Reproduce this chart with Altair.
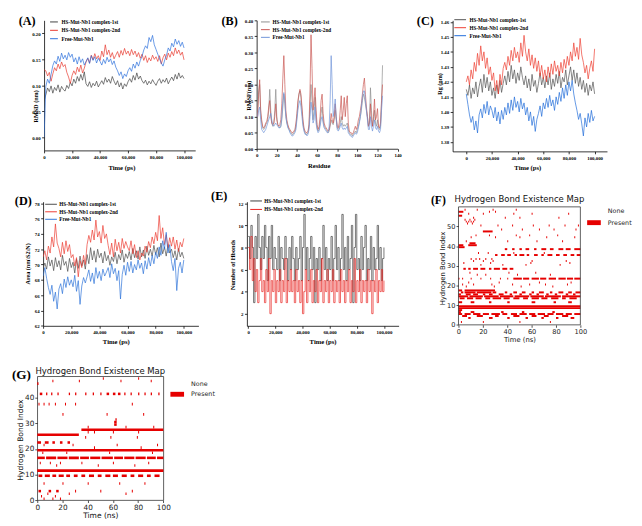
import altair as alt
import pandas as pd

SERIF = "Liberation Serif"
SANS = "DejaVu Sans"
S1 = "HS-Mut-Nb1 complex-1st"
S2 = "HS-Mut-Nb1 complex-2nd"
S3 = "Free-Mut-Nb1"

A_TIME = list(range(0, 100001, 1250))
A_1ST = [0.070, 0.082, 0.095, 0.088, 0.099, 0.085, 0.096, 0.090, 0.101, 0.087, 0.098, 0.092, 0.089,
         0.100, 0.094, 0.106, 0.099, 0.112, 0.104, 0.117, 0.108, 0.121, 0.110, 0.126,
         0.103, 0.098, 0.107, 0.096, 0.104, 0.099, 0.108, 0.097, 0.103,
         0.109, 0.102, 0.115, 0.106, 0.112, 0.104, 0.117, 0.108, 0.101, 0.109, 0.097, 0.105, 0.093, 0.103, 0.098, 0.107,
         0.113, 0.106, 0.119, 0.110, 0.124, 0.112, 0.118, 0.109, 0.104, 0.110, 0.101, 0.108, 0.103, 0.111, 0.105, 0.100,
         0.108, 0.113, 0.104, 0.111, 0.106, 0.114, 0.103, 0.110, 0.116, 0.109, 0.121, 0.112, 0.124, 0.114, 0.119, 0.113]
A_2ND = [0.130, 0.128, 0.118, 0.125, 0.108, 0.122, 0.134, 0.128, 0.141, 0.132, 0.145, 0.136, 0.140,
         0.125, 0.116, 0.104, 0.119, 0.128, 0.121, 0.135, 0.126, 0.139, 0.124, 0.133,
         0.145, 0.152, 0.143, 0.158, 0.149, 0.161, 0.151, 0.157, 0.148,
         0.166, 0.155, 0.178, 0.159, 0.168, 0.154, 0.163, 0.151, 0.158, 0.165, 0.154, 0.167, 0.158, 0.171, 0.160, 0.166,
         0.157, 0.169, 0.159, 0.166, 0.155, 0.163, 0.152, 0.160, 0.148, 0.157, 0.144, 0.153, 0.147, 0.158, 0.150, 0.155,
         0.146, 0.157, 0.141, 0.153, 0.160, 0.149, 0.162, 0.154, 0.165, 0.157, 0.172, 0.161, 0.168, 0.158, 0.164, 0.149]
A_FREE = [0.000, 0.098, 0.112, 0.104, 0.121, 0.138, 0.147, 0.141, 0.156, 0.146, 0.162, 0.151, 0.158,
          0.149, 0.163, 0.154, 0.160, 0.145, 0.153, 0.141, 0.155, 0.144, 0.151, 0.139,
          0.146, 0.153, 0.142, 0.157, 0.148, 0.155, 0.143, 0.152, 0.146,
          0.139, 0.150, 0.142, 0.154, 0.145, 0.151, 0.140, 0.147, 0.135, 0.128, 0.119, 0.126, 0.113, 0.122, 0.117, 0.128,
          0.134, 0.127, 0.141, 0.133, 0.145, 0.137, 0.148, 0.156, 0.168, 0.176, 0.171, 0.192, 0.184, 0.196, 0.178, 0.169,
          0.160, 0.151, 0.143, 0.137, 0.149, 0.158, 0.172, 0.166, 0.181, 0.174, 0.189, 0.179, 0.186, 0.175, 0.183, 0.172]

B_RES = list(range(1, 126))
B_1ST = [.13, .18, .20, .11, .08, .065, .06, .065, .075, .08, .09, .12, .185, .12, .08, .07, .075, .12, .185, .10,
         .075, .07, .065, .07, .09, .13, .17, .14, .10, .08, .07, .06, .055, .05, .045, .045, .05, .055, .07, .10,
         .14, .17, .18, .16, .12, .08, .06, .05, .045, .045, .05, .07, .13, .20, .15, .09, .12, .16, .10, .065,
         .055, .06, .08, .11, .13, .09, .07, .065, .06, .055, .05, .055, .07, .09, .08, .075, .09, .12, .09, .065,
         .06, .065, .08, .10, .08, .07, .075, .07, .075, .08, .06, .05, .045, .045, .04, .045, .05, .055, .05, .06,
         .07, .085, .10, .12, .15, .17, .16, .14, .12, .10, .07, .08, .19, .12, .07, .09, .12, .08, .07, .09,
         .065, .06, .07, .14, .26]
B_2ND = [.10, .17, .215, .12, .09, .07, .065, .07, .08, .085, .10, .13, .15, .10, .08, .075, .08, .10, .14, .09,
         .075, .07, .075, .09, .14, .22, .29, .20, .12, .09, .075, .065, .06, .055, .05, .05, .055, .06, .08, .11,
         .15, .17, .185, .17, .13, .09, .065, .055, .05, .05, .055, .075, .18, .355, .25, .12, .15, .19, .12, .075,
         .06, .07, .10, .15, .17, .11, .08, .07, .065, .06, .055, .06, .08, .11, .09, .08, .10, .14, .10, .07,
         .065, .08, .12, .165, .09, .12, .16, .10, .14, .165, .08, .055, .05, .05, .045, .05, .06, .07, .06, .07,
         .09, .10, .12, .14, .17, .20, .22, .17, .13, .10, .07, .08, .14, .09, .07, .10, .155, .09, .10, .125,
         .07, .065, .08, .15, .20]
B_FREE = [.10, .12, .13, .09, .06, .055, .05, .055, .06, .07, .08, .09, .10, .11, .09, .075, .07, .075, .08, .075,
          .07, .065, .065, .07, .10, .15, .175, .15, .10, .08, .065, .06, .05, .045, .04, .04, .045, .05, .06, .09,
          .12, .14, .15, .13, .10, .07, .055, .045, .045, .04, .045, .06, .10, .145, .12, .08, .09, .13, .08, .06,
          .05, .055, .07, .09, .10, .08, .065, .06, .055, .05, .05, .07, .15, .29, .20, .10, .12, .155, .10, .06,
          .055, .06, .07, .08, .065, .06, .065, .06, .065, .07, .05, .045, .04, .04, .035, .04, .045, .05, .045, .05,
          .065, .08, .10, .13, .16, .18, .18, .15, .12, .09, .06, .06, .10, .07, .055, .07, .09, .065, .06, .07,
          .055, .05, .06, .12, .165]

C_TIME = list(range(0, 100001, 1250))
C_1ST = [1.415, 1.411, 1.418, 1.409, 1.416, 1.412, 1.420, 1.410, 1.417,
         1.422, 1.413, 1.425, 1.416, 1.423, 1.414, 1.420, 1.411, 1.416, 1.409, 1.418, 1.412, 1.421, 1.413, 1.419, 1.424,
         1.418, 1.427, 1.420, 1.431, 1.422, 1.428, 1.419, 1.426, 1.421, 1.430, 1.423, 1.418,
         1.424, 1.416, 1.422, 1.414, 1.425, 1.417, 1.421, 1.413, 1.419, 1.426, 1.418, 1.423,
         1.416, 1.424, 1.418, 1.426, 1.415, 1.422, 1.417, 1.425, 1.419, 1.427, 1.416, 1.423, 1.420, 1.428, 1.418, 1.424,
         1.430, 1.421, 1.428, 1.419, 1.426, 1.417, 1.423, 1.415, 1.421, 1.413, 1.419, 1.411, 1.418, 1.414, 1.420, 1.412]
C_2ND = [1.420, 1.424, 1.418, 1.428, 1.422, 1.433, 1.427, 1.439, 1.431,
         1.444, 1.434, 1.440, 1.429, 1.436, 1.425, 1.430, 1.421, 1.426, 1.414, 1.421, 1.412, 1.425, 1.418, 1.429, 1.433,
         1.428, 1.437, 1.431, 1.441, 1.434, 1.443, 1.436, 1.440, 1.433, 1.446, 1.437, 1.451,
         1.440, 1.434, 1.442, 1.431, 1.438, 1.429, 1.436, 1.427, 1.434, 1.424, 1.431, 1.422,
         1.428, 1.420, 1.430, 1.423, 1.432, 1.425, 1.434, 1.427, 1.431, 1.424, 1.433, 1.426, 1.435, 1.429, 1.437, 1.431,
         1.440, 1.434, 1.446, 1.437, 1.443, 1.435, 1.449, 1.438, 1.433, 1.426, 1.431, 1.422, 1.429, 1.434, 1.427, 1.442]
C_FREE = [1.412, 1.405, 1.398, 1.393, 1.397, 1.388, 1.394, 1.386, 1.398,
          1.402, 1.396, 1.405, 1.399, 1.407, 1.398, 1.404, 1.401, 1.396, 1.403, 1.394, 1.400, 1.392, 1.401, 1.395, 1.403,
          1.398, 1.406, 1.399, 1.408, 1.401, 1.410, 1.403, 1.407, 1.400, 1.409, 1.402, 1.406,
          1.398, 1.403, 1.394, 1.400, 1.391, 1.397, 1.387, 1.395, 1.399, 1.404, 1.397, 1.406,
          1.402, 1.409, 1.403, 1.411, 1.404, 1.408, 1.401, 1.410, 1.405, 1.413, 1.407, 1.416, 1.409, 1.418, 1.411, 1.420,
          1.414, 1.421, 1.412, 1.406, 1.401, 1.395, 1.399, 1.392, 1.384, 1.396, 1.390, 1.399, 1.393, 1.401, 1.394, 1.397]

D_TIME = list(range(0, 100001, 1250))
D_1ST = [69.5, 70.2, 69.4, 71.0, 69.8, 70.6, 69.2, 70.9, 69.7,
         70.5, 69.3, 71.2, 69.9, 70.4, 69.1, 70.8, 69.6, 70.3, 68.9, 70.7, 69.5, 71.1, 69.8, 70.6, 69.4,
         71.3, 70.1, 72.2, 70.6, 71.8, 70.3, 72.0, 70.9, 71.5, 70.2, 71.7, 70.5,
         71.2, 69.9, 71.0, 70.4, 71.6, 70.1, 71.3, 70.6, 71.9, 70.3, 71.4, 70.8,
         71.7, 70.6, 72.1, 70.9, 71.8, 70.7, 72.3, 71.0, 71.9, 70.8, 72.4, 71.2, 72.0, 71.1, 72.5, 71.3,
         72.2, 71.0, 72.8, 71.4, 72.3, 71.1, 72.6, 71.5, 72.0, 70.9, 71.8, 70.6, 72.1, 71.0, 71.6, 70.8]
D_2ND = [71.0, 71.8, 70.6, 72.4, 71.5, 73.6, 72.3, 75.3, 72.8,
         72.1, 71.0, 72.9, 71.4, 73.1, 71.7, 72.6, 70.9, 71.3, 69.8, 70.9, 68.4, 70.5, 69.6, 71.2, 70.0,
         72.6, 73.8, 72.9, 74.5, 73.2, 75.8, 73.6, 74.3, 72.8, 75.1, 73.4, 74.0,
         72.5, 71.3, 72.8, 71.0, 73.3, 71.8, 72.9, 71.5, 73.4, 72.1, 73.0, 72.3,
         71.8, 73.1, 71.4, 72.6, 70.9, 71.8, 70.6, 71.5, 71.1, 72.4, 71.6, 73.0, 72.2, 73.6, 72.7, 74.2,
         73.1, 76.4, 73.4, 74.8, 72.6, 73.9, 72.2, 73.5, 72.4, 73.6, 72.0, 73.2, 71.7, 72.9, 72.3, 73.4]
D_FREE = [68.5, 69.6, 68.2, 67.0, 66.1, 67.3, 65.2, 66.4, 64.2,
          66.8, 67.5, 66.2, 68.1, 67.0, 68.4, 67.3, 68.0, 67.1, 68.6, 66.5, 67.9, 64.8, 67.2, 68.3, 67.6,
          68.4, 69.3, 67.8, 68.9, 67.5, 69.6, 68.2, 69.1, 67.9, 69.4, 68.5, 69.0,
          69.6, 68.3, 70.1, 68.8, 69.5, 67.9, 69.2, 65.5, 68.7, 69.9, 68.6, 70.3,
          69.1, 70.4, 68.9, 70.0, 69.3, 70.6, 69.5, 70.2, 68.8, 70.5, 69.4, 70.9, 69.8, 71.2, 70.1, 71.6,
          70.8, 72.3, 71.2, 73.1, 72.0, 74.2, 71.5, 72.6, 70.4, 69.2, 70.8, 66.6, 69.5, 70.3, 68.9, 70.6]

E_TIME = list(range(0, 100001, 1000))
E_1ST = [9, 7, 10, 8, 3, 9, 7, 11, 8, 6, 9, 7, 10, 8, 5, 9, 7, 10, 6, 8, 7,
         6, 9, 5, 8, 7, 6, 9, 7, 5, 8, 6, 9, 7, 5, 8, 6, 7, 9, 5, 8,
         11, 6, 8, 5, 7, 9, 6, 8, 3, 7, 6, 8, 5, 7, 10, 6, 8, 5, 7, 6,
         9, 5, 7, 10, 6, 8, 5, 7, 11, 6, 8, 5, 9, 6, 7, 10, 3, 8, 11, 6,
         7, 5, 9, 6, 8, 10, 5, 7, 6, 9, 5, 8, 6, 7, 10, 6, 8, 5, 7, 8]
E_2ND = [8, 6, 9, 5, 7, 4, 6, 3, 5, 7, 4, 5, 3, 6, 4, 7, 2, 5, 4, 6, 3,
         5, 4, 6, 3, 5, 4, 7, 3, 5, 4, 6, 4, 5, 3, 6, 4, 5, 3, 5, 2,
         4, 6, 3, 5, 4, 6, 3, 5, 4, 6, 3, 5, 4, 7, 3, 5, 4, 6, 3, 5,
         4, 6, 3, 5, 4, 5, 3, 6, 4, 5, 3, 5, 4, 6, 3, 5, 4, 7, 3, 5,
         4, 6, 3, 5, 4, 5, 3, 6, 4, 5, 2, 5, 4, 6, 3, 5, 4, 6, 4, 5]

# (bond index, start ns, end ns)
F_SEGS = [(8, 0, 100), (9, 0, 100), (17, 0, 3), (17, 5, 30),
          (16, 2, 4), (16, 5, 14), (16, 15, 27), (16, 28, 31), (16, 38, 40), (16, 45, 48), (16, 52, 55),
          (16, 60, 62), (16, 66, 70), (16, 75, 77), (16, 82, 86), (16, 90, 93), (16, 96, 100),
          (15, 0, 2), (15, 6, 10), (15, 12, 16), (15, 20, 22), (15, 25, 28), (15, 33, 37), (15, 42, 44),
          (15, 50, 52), (15, 58, 60), (15, 64, 66), (15, 72, 74), (15, 79, 81), (15, 88, 90), (15, 94, 96),
          (14, 0, 8), (14, 9, 20), (14, 21, 33), (14, 34, 45), (14, 46, 58), (14, 59, 70), (14, 71, 84), (14, 85, 100),
          (13, 1, 5), (13, 7, 12), (13, 14, 19), (13, 22, 26), (13, 28, 35), (13, 37, 42), (13, 45, 50),
          (13, 53, 57), (13, 60, 66), (13, 68, 73), (13, 76, 82), (13, 85, 88), (13, 91, 97),
          (11, 0, 3), (11, 10, 13), (11, 25, 27), (11, 40, 42), (11, 60, 63), (11, 78, 80), (11, 90, 93),
          (7, 0, 3), (6, 0, 2), (6, 10, 13), (6, 35, 37), (6, 52, 54), (6, 77, 79),
          (5, 0, 3), (5, 5, 10), (5, 12, 18), (5, 20, 25), (5, 27, 34), (5, 36, 40), (5, 43, 48), (5, 50, 56),
          (5, 58, 63), (5, 65, 71), (5, 73, 78), (5, 80, 86), (5, 88, 93), (5, 95, 100),
          (4, 3, 7), (4, 15, 20), (4, 30, 33), (4, 45, 50), (4, 60, 64), (4, 70, 74), (4, 85, 90),
          (3, 8, 10), (3, 25, 28), (3, 40, 42), (3, 55, 57), (3, 68, 70), (3, 80, 82), (3, 92, 95),
          (23, 45, 52), (23, 53, 58), (23, 60, 66), (23, 67, 72), (23, 74, 80), (23, 82, 88), (23, 89, 94), (23, 95, 100),
          (28, 4, 6), (28, 8, 10), (28, 12, 16), (28, 18, 22), (28, 25, 27), (28, 29, 34), (28, 36, 40), (28, 42, 45),
          (35, 30, 32), (35, 35, 38), (35, 40, 43), (35, 46, 48), (35, 50, 54), (35, 56, 58), (35, 62, 65),
          (35, 68, 70), (35, 73, 77), (35, 80, 83), (35, 86, 89), (35, 92, 95), (35, 97, 100),
          (38, 38, 40), (38, 44, 46), (38, 50, 52), (38, 55, 58), (38, 62, 64), (38, 68, 72), (38, 75, 78),
          (38, 82, 86), (38, 88, 92), (38, 95, 100),
          (39, 0, 5), (40, 0, 4), (40, 8, 15), (41, 9, 14), (47, 20, 28), (55, 0, 3), (57, 0, 4)]
F_DOTS = [(1, 2), (1, 20), (1, 50), (1, 75), (19, 6), (19, 29), (19, 51), (19, 77),
          (20, 3), (20, 12), (20, 27), (20, 44), (20, 58), (20, 71), (20, 89), (21, 8), (21, 33), (21, 66), (21, 92),
          (23, 0), (23, 3), (23, 10), (23, 18), (23, 26), (23, 34), (23, 40), (25, 15), (25, 22), (25, 48), (25, 75),
          (26, 9), (26, 41), (26, 63), (30, 18), (30, 36), (30, 55), (30, 83), (31, 4), (31, 26), (31, 59), (31, 91),
          (32, 12), (32, 20), (32, 28), (32, 60), (32, 88), (33, 10), (33, 14), (33, 17), (33, 22), (33, 27),
          (36, 16), (36, 24), (36, 45), (36, 70), (42, 6), (42, 40), (42, 64), (42, 85),
          (44, 10), (44, 30), (44, 50), (44, 72), (44, 95), (45, 14), (45, 25), (45, 47), (45, 58), (45, 81),
          (48, 35), (48, 52), (48, 66), (48, 78), (48, 96), (50, 18), (50, 32), (50, 44), (50, 61), (50, 74), (50, 87), (50, 98),
          (51, 7), (51, 11), (52, 6), (52, 8), (52, 10), (52, 12), (53, 5), (53, 9), (53, 13),
          (54, 12), (54, 38), (54, 50), (54, 82), (56, 8), (56, 20), (56, 45), (56, 60), (56, 90),
          (57, 25), (57, 30), (58, 5), (58, 15), (58, 28), (58, 47)]

G_SEGS = [(11, 0, 100), (19, 0, 100),
          (16, 0, 6), (16, 7, 15), (16, 16, 24), (16, 25, 33), (16, 34, 41), (16, 42, 50), (16, 51, 60),
          (16, 61, 68), (16, 69, 77), (16, 78, 86), (16, 87, 94), (16, 95, 100),
          (25, 0, 33), (27, 35, 100), (29, 61, 63), (30, 61, 63), (31, 62, 63),
          (9, 1, 4), (9, 6, 10), (9, 12, 15), (9, 17, 21), (9, 23, 26), (9, 29, 32), (9, 35, 38), (9, 41, 45),
          (9, 48, 51), (9, 54, 58), (9, 60, 64), (9, 67, 71), (9, 74, 77), (9, 80, 84), (9, 87, 90), (9, 93, 97),
          (22, 0, 3), (22, 6, 9), (22, 12, 14), (22, 18, 20), (22, 24, 26),
          (41, 2, 4), (41, 7, 8), (41, 11, 12), (41, 16, 17), (41, 25, 26), (41, 30, 31), (41, 38, 39),
          (41, 44, 45), (41, 50, 51), (41, 55, 57), (41, 60, 62), (41, 64, 66), (41, 69, 70), (41, 74, 75),
          (41, 80, 81), (41, 85, 86), (41, 90, 91), (41, 96, 97), (45, 0, 1), (3, 1, 3), (3, 9, 11), (3, 15, 17)]
G_DOTS = [(37, 1), (37, 5), (37, 9), (37, 14), (37, 22), (37, 30), (37, 75),
          (46, 12), (46, 33), (47, 52), (46, 66), (47, 80), (46, 90), (14, 2), (14, 10), (14, 18), (14, 35), (14, 60), (14, 88),
          (6, 5), (6, 20), (6, 40), (6, 65), (6, 85), (3, 30), (3, 50), (3, 75), (2, 8), (2, 25), (2, 70),
          (21, 5), (21, 28), (20, 45), (21, 63), (20, 82), (21, 95), (24, 38), (24, 58), (24, 79),
          (18, 4), (18, 23), (18, 57), (18, 91), (13, 15), (13, 48), (13, 77), (33, 20), (33, 55), (33, 84),
          (28, 40), (28, 70), (28, 92), (26, 40), (26, 45), (26, 60), (26, 80),
          (0, 5), (0, 12), (0, 18), (1, 3), (1, 14)]

HB_STATES = ["None", "Present"]
HB_TITLE = "Hydrogen Bond Existence Map"
TIME_TICKS = [0, 20000, 40000, 60000, 80000, 100000]
F_FRAME = {"t0": [0], "t1": [100], "r0": [0], "r1": [60]}   # map frame: full time range x bond indices 0-60


def series_df(x, named):
    rows = []
    for name, vals in named:
        for xi, v in zip(x, vals):
            rows.append({"x": xi, "y": v, "s": name})
    return pd.DataFrame(rows)


def hb_df(segs, dots):
    rows = [{"t0": a, "t1": b, "r0": r, "r1": r + 1, "state": "Present"} for r, a, b in segs]
    rows += [{"t0": t, "t1": t + 0.8, "r0": r, "r1": r + 1, "state": "Present"} for r, t in dots]
    return pd.DataFrame(rows)


def text_layer(text, dx, dy, size, font=SERIF, weight="bold", align="left", baseline="top", color="black"):
    return alt.Chart(pd.DataFrame({"t": [text]})).mark_text(
        font=font, fontWeight=weight, fontSize=size, align=align, baseline=baseline, color=color
    ).encode(text="t:N", x=alt.value(dx), y=alt.value(dy))


def anchor(box):
    # invisible rectangle that fixes the cell box of a panel (offsets from the plot origin)
    a, b, c, d = box
    return alt.Chart(pd.DataFrame({"v": [0]})).mark_rect(opacity=0).encode(
        x=alt.value(-a), x2=alt.value(b), y=alt.value(-c), y2=alt.value(d))


def spacer():
    return alt.Chart(pd.DataFrame({"v": [0]})).mark_rect(opacity=0).encode(
        x=alt.value(0), x2=alt.value(1), y=alt.value(0), y2=alt.value(1)
    ).properties(width=1, height=1)


def o_axis(values, fmt, title, tx, ty, vertical):
    return alt.Axis(
        values=values, format=fmt, title=title, titleX=tx, titleY=ty,
        titleAngle=-90 if vertical else 0, titleBaseline="middle", titleAlign="center",
        titleFont=SERIF, titleFontWeight="bold", titleFontSize=6.3 if vertical else 6.8, titleColor="black",
        labelFont=SERIF, labelFontWeight="bold", labelFontSize=5, labelColor="black",
        labelPadding=1.5, labelFlush=False, labelOverlap=False,
        domainColor="black", domainWidth=0.8, tickColor="black", tickWidth=0.8, tickSize=2.5, grid=False)


def o_legend(lx, ly, path, offset, rowpad):
    return alt.Legend(
        title=None, orient="none", legendX=lx, legendY=ly, symbolType=path, symbolSize=4,
        symbolStrokeWidth=1, labelFont=SERIF, labelFontWeight="bold", labelFontSize=5.3,
        labelColor="black", labelOffset=offset, rowPadding=rowpad, padding=0)


def origin_panel(df, order, colors, xdom, ydom, xax, yax, legend, w, h, lab, box, interp="linear", sw=0.7):
    color = alt.Color("s:N", scale=alt.Scale(domain=order, range=colors), legend=legend)
    layers = [anchor(box)]
    for s in order:
        layers.append(alt.Chart(df[df.s == s]).mark_line(strokeWidth=sw, interpolate=interp, clip=True).encode(
            x=alt.X("x:Q", scale=alt.Scale(domain=xdom, nice=False, zero=False), axis=xax),
            y=alt.Y("y:Q", scale=alt.Scale(domain=ydom, nice=False, zero=False), axis=yax),
            color=color))
    layers.append(text_layer(*lab))
    return alt.layer(*layers).properties(width=w, height=h)


def hb_panel(df, w, h, ydom, fs, tick_fs, lab, lx, ly, rowpad, title_y, ytx, yty, xty, box, frame):
    ax_common = dict(labelFont=SANS, labelFontSize=tick_fs, labelColor="#222", tickColor="#222",
                     tickSize=2.5, tickWidth=0.8, labelPadding=1, domain=False, grid=False,
                     titleFont=SANS, titleFontSize=fs, titleFontWeight="normal", titleColor="#111",
                     titleBaseline="middle", titleAlign="center", labelFlush=False)
    xenc = alt.X("t0:Q", scale=alt.Scale(domain=[0, 100], nice=False),
                 axis=alt.Axis(values=[0, 20, 40, 60, 80, 100], title="Time (ns)", titleY=xty, **ax_common))
    yenc = alt.Y("r0:Q", scale=alt.Scale(domain=ydom, nice=False, zero=False),
                 axis=alt.Axis(values=[0, 10, 20, 30, 40, 50], title="Hydrogen Bond Index",
                               titleX=ytx, titleY=yty, titleAngle=-90, **ax_common))
    rects = alt.Chart(df).mark_rect(strokeWidth=0).encode(
        x=xenc, x2="t1:Q", y=yenc, y2="r1:Q",
        color=alt.Color("state:N", scale=alt.Scale(domain=HB_STATES, range=["#ffffff", "#e60000"]),
                        legend=alt.Legend(title=None, orient="none", legendX=lx, legendY=ly,
                                          symbolType="M-7,-2.5H7V2.5H-7Z", symbolSize=4, symbolStrokeWidth=0,
                                          labelFont=SANS, labelFontSize=6.5, labelColor="#222",
                                          labelOffset=11, rowPadding=rowpad, padding=0)))
    title = text_layer(HB_TITLE, w / 2, title_y, 8.7, font=SANS, weight="normal", align="center",
                       baseline="alphabetic", color="#111")
    layers = [anchor(box), rects]
    if frame:
        layers.append(alt.Chart(pd.DataFrame(F_FRAME)).mark_rect(filled=False, color="#333", strokeWidth=0.8)
                      .encode(x=xenc, x2="t1:Q", y=yenc, y2="r1:Q"))
        props = dict(width=w, height=h)
    else:
        props = dict(width=w, height=h, view=alt.ViewBackground(stroke="#333", strokeWidth=0.8))
    layers += [title, text_layer(*lab)]
    return alt.layer(*layers).properties(**props)


pA = origin_panel(series_df(A_TIME, [(S1, A_1ST), (S2, A_2ND), (S3, A_FREE)]), [S1, S2, S3],
                  ["#404040", "#e8372c", "#2a6fdb"], [0, 108000], [-0.025, 0.225],
                  o_axis(TIME_TICKS, ",d", "Time (ps)", 79.3, 17.6, False),
                  o_axis([0, 0.05, 0.10, 0.15, 0.20], ".2f", "RMSD (nm)", -8.7, 87.7, True),
                  o_legend(7.5, -1, "M-4,0H4", 5.1, 2.6), 155, 133.4, ("(A)", -26, -5, 12.5),
                  (32.7, 172, 5, 167))
pB = origin_panel(series_df(B_RES, [(S1, B_1ST), (S2, B_2ND), (S3, B_FREE)]), [S1, S2, S3],
                  ["#8c8c8c", "#c85450", "#6f93d8"], [0, 140], [0, 0.40],
                  o_axis([0, 20, 40, 60, 80, 100, 120, 140], "d", "Residue", 63.6, 17.7, False),
                  o_axis([0, .05, .10, .15, .20, .25, .30, .35, .40], ".2f", "RMSF(nm)", -8, 76.7, True),
                  o_legend(6.3, -1, "M-4.5,0H4.5", 4.7, 1.9), 144.6, 131.7, ("(B)", -36, -5, 12.5),
                  (43.7, 160, 5, 167))
pC = origin_panel(series_df(C_TIME, [(S1, C_1ST), (S2, C_2ND), (S3, C_FREE)]), [S1, S2, S3],
                  ["#505050", "#ee3b2e", "#1d6ad9"], [-10640, 109650], [1.3737, 1.461],
                  o_axis(TIME_TICKS, ",d", "Time (ps)", 76.6, 16.6, False),
                  o_axis([1.38, 1.39, 1.40, 1.41, 1.42, 1.43, 1.44, 1.45, 1.46], ".2f", "Rg (nm)", -13, 64.7, True),
                  o_legend(5.1, -3.3, "M-6,0H6", 6.9, 2.2), 158.3, 134.4, ("(C)", -36.7, -5, 12.5),
                  (38.7, 183.3, 5, 167))
pD = origin_panel(series_df(D_TIME, [(S1, D_1ST), (S2, D_2ND), (S3, D_FREE)]), [S1, S2, S3],
                  ["#4a4a4a", "#ec3a2f", "#2b72d8"], [0, 110400], [62, 78.2],
                  o_axis(TIME_TICKS, ",d", "Time (ps)", 74.6, 16, False),
                  o_axis([62, 64, 66, 68, 70, 72, 74, 76, 78], "d", "Area (nm\\S2\\N)", -15.7, 63.3, True),
                  o_legend(5.5, 0, "M-6,0H6", 5.8, 1.7), 159.3, 127.3, ("(D)", -29, -6.7, 12.5),
                  (31.7, 165, 16.7, 153.3))
pE = origin_panel(series_df(E_TIME, [(S1, E_1ST), (S2, E_2ND)]), [S1, S2],
                  ["#3a3a3a", "#e8201e"], [-930, 110800], [0.9, 12.15],
                  o_axis(TIME_TICKS, ",d", "Time (ps)", 77.6, 16, False),
                  o_axis([2, 4, 6, 8, 10, 12], "d", "Number of Hbonds", -14.4, 64.3, True),
                  o_legend(6.8, -3.4, "M-6,0H6", 5.8, 2.7), 155.6, 127.3, ("(E)", -36.7, -11.7, 12.5),
                  (41.7, 184, 16.7, 153.3), interp="step-after", sw=0.7)
# F: plot area starts level with D/E; the map frame (indices 0-60) sits 5.6 px lower
pF = hb_panel(hb_df(F_SEGS, F_DOTS), 125, 126.3, [0, 62.63], 7, 6.8, ("(F)", -28.3, -7, 12),
              135.7, 6.75, 4.5, 0.7, -16, 68, 15, (31.3, 178.7, 16.7, 153.3), True)
pG = hb_panel(hb_df(G_SEGS, G_DOTS), 129.3, 127, [0, 48.4], 7.7, 7.5, ("(G)", -26, -8, 13.5),
              140.3, 4.75, 3.5, -2.3, -16.7, 65, 15.7, (26, 205, 24, 148), False)


def row(*charts):
    return alt.hconcat(spacer(), *charts, spacing=0).resolve_scale(color="independent").resolve_legend(
        color="independent")


chart = alt.vconcat(row(pA, pB, pC), row(pD, pE, pF), row(pG), spacing=0).resolve_scale(
    color="independent").resolve_legend(color="independent").properties(
    padding={"left": 0, "top": 0, "right": 0, "bottom": 0}).configure(
    padding={"left": 0, "top": 0, "right": 0, "bottom": 0}).configure_view(stroke="transparent")

chart.save("out.html", embed_options={"renderer": "svg", "actions": False})
